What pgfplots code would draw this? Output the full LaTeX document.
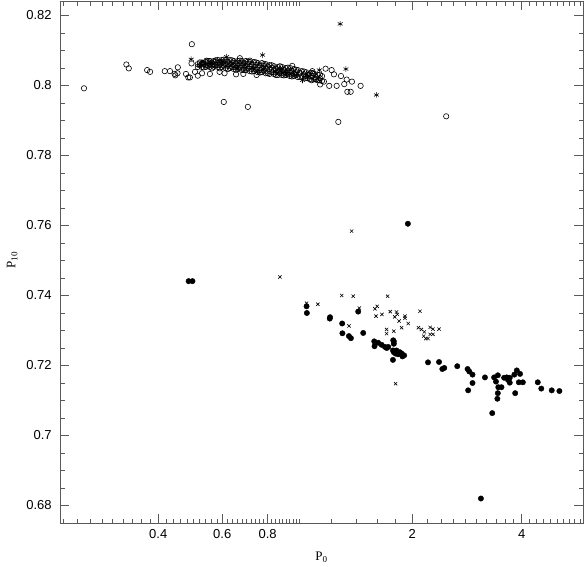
\documentclass[border=0pt]{standalone}
\usepackage{fontspec}
\setmainfont{Liberation Sans}
\newfontfamily\labfont{Liberation Serif}
\usepackage{pgfplots}
\pgfplotsset{compat=1.18}
\begin{document}
\begin{tikzpicture}
\begin{axis}[
    scale only axis, width=522.8pt, height=521.5pt,
    xmode=log, xmin=0.215, xmax=5.9, ymin=0.675, ymax=0.824,
    xtick={0.4,0.6,0.8,2,4}, xticklabels={0.4,0.6,0.8,2,4},
    minor xtick={0.22,0.24,...,1.0,1.2,1.4,...,5.8},
    ytick={0.68,0.70,0.72,0.74,0.76,0.78,0.80,0.82},
    yticklabels={0.68,0.7,0.72,0.74,0.76,0.78,0.8,0.82},
    minor y tick num=3,
    axis line style={black!65, line width=0.8pt},
    every tick/.style={black!65, line width=0.7pt},
    major tick length=9pt, minor tick length=4.5pt,
    tick label style={font=\fontsize{13}{13}\selectfont, black},
    xticklabel style={yshift=-3pt},
    yticklabel style={xshift=-5pt},
    xlabel={\labfont P\textsubscript{0}}, ylabel={\labfont P\textsubscript{10}},
    label style={font=\fontsize{13}{13}\selectfont},
    xlabel style={at={(axis description cs:0.5,-0.065)}, anchor=center},
    ylabel style={at={(axis description cs:-0.092,0.504)}, anchor=center, rotate=0},
    clip=false,
]
% open circles: upper group
\addplot[only marks, mark=o, mark size=2.7pt, mark options={black, line width=0.6pt}]
  coordinates {
  (0.250,0.7992) (0.327,0.8060) (0.332,0.8049) (0.373,0.8044) (0.380,0.8039)
  (0.417,0.8041) (0.431,0.8041) (0.444,0.8033) (0.446,0.8029) (0.452,0.8035)
  (0.453,0.8052) (0.477,0.8033) (0.484,0.8023) (0.489,0.8023) (0.495,0.8118)
  (0.494,0.8063) (0.505,0.8039) (0.514,0.8028) (0.528,0.8035) (0.531,0.8064)
  (0.543,0.8071) (0.555,0.8033) (0.590,0.8039) (0.606,0.7953) (0.609,0.8035)
  (0.655,0.8032) (0.686,0.8033) (0.706,0.7939) (0.746,0.8030) (0.671,0.8078)
  (0.715,0.8071) (0.935,0.8056) (1.020,0.8027) (1.057,0.8015) (1.062,0.8041)
  (1.067,0.8035) (1.088,0.8018) (1.110,0.8015) (1.116,0.8003) (1.143,0.8011)
  (1.155,0.8048) (1.182,0.7999) (1.200,0.8044) (1.218,0.8032) (1.239,0.7999)
  (1.252,0.7896) (1.273,0.8027) (1.300,0.8004) (1.320,0.8017) (1.326,0.7982)
  (1.354,0.7982) (1.365,0.8011) (1.442,0.7999) (2.480,0.7912)
  (0.514,0.8061) (0.514,0.8053) (0.528,0.8064) (0.528,0.8053)
  (0.541,0.8067) (0.541,0.8058) (0.541,0.8053)
  (0.555,0.8070) (0.555,0.8061) (0.555,0.8053)
  (0.569,0.8070) (0.569,0.8061) (0.569,0.8053)
  (0.584,0.8073) (0.584,0.8064) (0.584,0.8053)
  (0.599,0.8073) (0.599,0.8064) (0.599,0.8053)
  (0.614,0.8073) (0.614,0.8061) (0.614,0.8050)
  (0.630,0.8073) (0.630,0.8061) (0.630,0.8050)
  (0.646,0.8070) (0.646,0.8058) (0.646,0.8047)
  (0.663,0.8070) (0.663,0.8058) (0.663,0.8047)
  (0.680,0.8070) (0.680,0.8058) (0.680,0.8044)
  (0.697,0.8070) (0.697,0.8055) (0.697,0.8044)
  (0.715,0.8067) (0.715,0.8055) (0.715,0.8041)
  (0.734,0.8067) (0.734,0.8053) (0.734,0.8041)
  (0.752,0.8064) (0.752,0.8053) (0.752,0.8038)
  (0.772,0.8064) (0.772,0.8050) (0.772,0.8038)
  (0.791,0.8061) (0.791,0.8050) (0.791,0.8035)
  (0.810,0.8058) (0.810,0.8047) (0.810,0.8033)
  (0.833,0.8055) (0.833,0.8044) (0.833,0.8033)
  (0.854,0.8053) (0.854,0.8041) (0.854,0.8030)
  (0.876,0.8053) (0.876,0.8041) (0.876,0.8030)
  (0.898,0.8050) (0.898,0.8038) (0.898,0.8030)
  (0.922,0.8050) (0.922,0.8038) (0.922,0.8027)
  (0.945,0.8047) (0.945,0.8035) (0.945,0.8027)
  (0.969,0.8044) (0.969,0.8024) (0.994,0.8041) (0.994,0.8024)
  (1.020,0.8038) (1.020,0.8021) (1.046,0.8035) (1.046,0.8018)
  (1.073,0.8033) (1.073,0.8018) (1.100,0.8030) (1.100,0.8015)
  (1.129,0.8027) (1.129,0.8013)
  (0.521,0.8058) (0.534,0.8061) (0.548,0.8064) (0.548,0.8056)
  (0.562,0.8066) (0.562,0.8057) (0.576,0.8068) (0.576,0.8058)
  (0.591,0.8068) (0.591,0.8058) (0.606,0.8068) (0.606,0.8057)
  (0.622,0.8067) (0.622,0.8056) (0.638,0.8066) (0.638,0.8053)
  (0.655,0.8064) (0.655,0.8052) (0.671,0.8064) (0.671,0.8051)
  (0.689,0.8063) (0.689,0.8050) (0.706,0.8062) (0.706,0.8048)
  (0.724,0.8060) (0.724,0.8047) (0.743,0.8059) (0.743,0.8045)
  (0.762,0.8057) (0.762,0.8044) (0.781,0.8056) (0.781,0.8042)
  (0.801,0.8054) (0.801,0.8040) (0.821,0.8051) (0.821,0.8038)
  (0.843,0.8048) (0.843,0.8037) (0.865,0.8046) (0.865,0.8035)
  (0.887,0.8044) (0.887,0.8034) (0.910,0.8043) (0.910,0.8032)
  (0.933,0.8041) (0.933,0.8031) (0.957,0.8038) (0.957,0.8030)
  (0.982,0.8035) (1.007,0.8032) (1.033,0.8030) (1.059,0.8027)
  (1.086,0.8024) (1.114,0.8021)
  (0.521,0.8066) (0.534,0.8052) (0.548,0.8070) (0.562,0.8049)
  (0.576,0.8072) (0.591,0.8049) (0.606,0.8074) (0.622,0.8047)
  (0.638,0.8072) (0.655,0.8045) (0.671,0.8071) (0.689,0.8044)
  (0.706,0.8068) (0.724,0.8040) (0.743,0.8066) (0.762,0.8037)
  (0.781,0.8061) (0.801,0.8035) (0.821,0.8058) (0.843,0.8030)
  (0.865,0.8055) (0.887,0.8029) (0.910,0.8051) (0.933,0.8026)
  (0.957,0.8045) (0.982,0.8025) (1.007,0.8040) (1.033,0.8021)
  (1.059,0.8036) (1.086,0.8017) (1.114,0.8031)
  };
% asterisks: upper group
\addplot[only marks, mark=asterisk, mark size=2.8pt, mark options={black, line width=0.6pt}]
  coordinates {
  (0.493,0.8075) (0.528,0.8067) (0.617,0.8082) (0.775,0.8087) (1.267,0.8176)
  (1.314,0.8047) (1.594,0.7973) (1.110,0.8044) (0.998,0.8015)
  (0.560,0.8064) (0.600,0.8068) (0.640,0.8061) (0.690,0.8058) (0.730,0.8050)
  (0.780,0.8047) (0.840,0.8041) (0.900,0.8035) (0.960,0.8030) (1.030,0.8024)
  (0.520,0.8056) (0.660,0.8050) (0.750,0.8040) (0.870,0.8046)
  };
% crosses: lower group
\addplot[only marks, mark=x, mark size=2.3pt, mark options={black, line width=0.6pt}]
  coordinates {
  (0.865,0.7453) (1.024,0.7378) (1.100,0.7375) (1.279,0.7400) (1.376,0.7398)
  (1.430,0.7364) (1.340,0.7313) (1.579,0.7362) (1.602,0.7369) (1.590,0.7341)
  (1.651,0.7346) (1.711,0.7398) (1.700,0.7303) (1.700,0.7291) (1.780,0.7298)
  (1.740,0.7354) (1.810,0.7353) (1.820,0.7346) (1.790,0.7339) (1.840,0.7327)
  (1.870,0.7308) (1.910,0.7341) (1.950,0.7320) (1.910,0.7335) (2.100,0.7355)
  (2.080,0.7308) (2.120,0.7303) (2.160,0.7296) (2.150,0.7284) (2.180,0.7277)
  (2.210,0.7277) (2.240,0.7309) (2.280,0.7304) (2.370,0.7304) (2.240,0.7289)
  (2.280,0.7289) (1.800,0.7148) (1.362,0.7584)
  };
% filled circles: lower group
\addplot[only marks, mark=*, mark size=2.7pt, mark options={black}]
  coordinates {
  (0.485,0.7441) (0.497,0.7441) (1.024,0.7369) (1.026,0.7350) (1.188,0.7338)
  (1.186,0.7334) (1.283,0.7320) (1.285,0.7292) (1.339,0.7284) (1.356,0.7278)
  (1.420,0.7354) (1.466,0.7293) (1.572,0.7269) (1.575,0.7255) (1.612,0.7265)
  (1.648,0.7259) (1.683,0.7253) (1.701,0.7250) (1.718,0.7253) (1.773,0.7272)
  (1.780,0.7262) (1.780,0.7269) (1.770,0.7243) (1.780,0.7238) (1.800,0.7234)
  (1.810,0.7243) (1.830,0.7232) (1.850,0.7238) (1.870,0.7234) (1.880,0.7226)
  (1.900,0.7229) (1.770,0.7216) (1.946,0.7605)
  (2.21,0.7209) (2.37,0.7210) (2.42,0.7190) (2.45,0.7193) (2.66,0.7198)
  (2.84,0.7190) (2.87,0.7183) (2.93,0.7174) (2.93,0.7150) (2.85,0.7129)
  (3.17,0.7166) (3.36,0.7166) (3.44,0.7172) (3.40,0.7154) (3.45,0.7138)
  (3.52,0.7138) (3.44,0.7121) (3.43,0.7105) (3.32,0.7064) (3.58,0.7165)
  (3.64,0.7166) (3.67,0.7159) (3.71,0.7165) (3.71,0.7151) (3.82,0.7174)
  (3.88,0.7186) (3.96,0.7176) (3.84,0.7121) (3.93,0.7152) (4.03,0.7152)
  (4.43,0.7152) (4.53,0.7134) (4.84,0.7129) (5.08,0.7127) (3.09,0.6820)
  };
\end{axis}
\path (current axis.south west) ++(-60.2pt,-43pt) coordinate (bl);
\path (current axis.north east) ++(1pt,1.5pt) coordinate (tr);
\useasboundingbox (bl) rectangle (tr);
\end{tikzpicture}
\end{document}
